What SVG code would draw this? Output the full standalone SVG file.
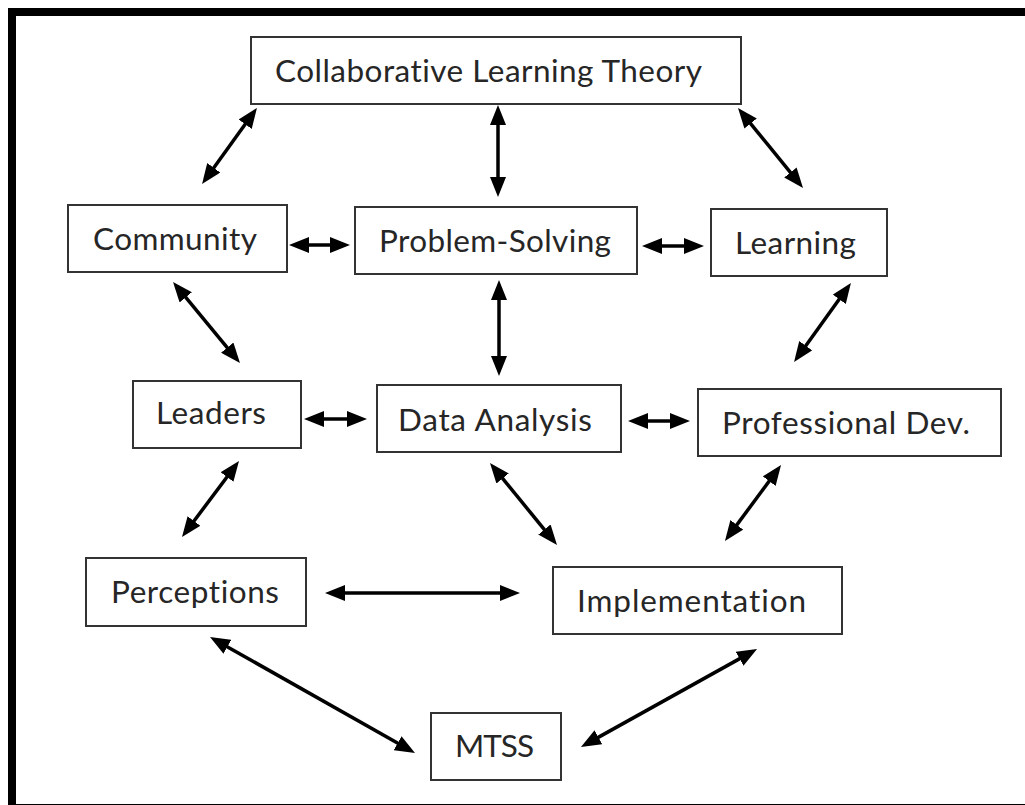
<svg xmlns="http://www.w3.org/2000/svg" width="1025" height="805" viewBox="0 0 1025 805">
  <defs>
    <marker id="head" viewBox="0 0 20 16" markerWidth="20" markerHeight="16" refX="10" refY="8" orient="auto-start-reverse" markerUnits="userSpaceOnUse">
      <path d="M0,0 L20,8 L0,16 z" fill="#000"/>
    </marker>
    <style>
      .box { fill: #fff; stroke: #333; stroke-width: 2; }
      .lbl { font-family: Lato, "Open Sans", "Liberation Sans", sans-serif; font-size: 31.5px; fill: #262626; font-variant-ligatures: none; }
      .link { stroke: #000; stroke-width: 3.5; fill: none; marker-start: url(#head); marker-end: url(#head); }
    </style>
  </defs>

  <rect width="1025" height="805" fill="#fff"/>
  <!-- outer frame -->
  <rect x="12" y="12" width="1040" height="796" fill="none" stroke="#000" stroke-width="8"/>

  <g id="connectors">
    <line class="link" x1="251.1" y1="116.1" x2="207.9" y2="175.9"/>
    <line class="link" x1="498" y1="115" x2="498" y2="187"/>
    <line class="link" x1="744.3" y1="115.8" x2="796.7" y2="180.2"/>
    <line class="link" x1="299" y1="245" x2="340" y2="245"/>
    <line class="link" x1="652" y1="246" x2="694" y2="246"/>
    <line class="link" x1="179.4" y1="289.7" x2="233.6" y2="355.3"/>
    <line class="link" x1="499" y1="290" x2="499" y2="366"/>
    <line class="link" x1="845.1" y1="291.1" x2="799.9" y2="353.9"/>
    <line class="link" x1="314" y1="419" x2="357" y2="419"/>
    <line class="link" x1="638" y1="421" x2="680" y2="421"/>
    <line class="link" x1="233" y1="469" x2="188" y2="529"/>
    <line class="link" x1="496.3" y1="470.7" x2="550.7" y2="537.3"/>
    <line class="link" x1="775.1" y1="473.1" x2="730.9" y2="532.9"/>
    <line class="link" x1="335" y1="593" x2="510" y2="593"/>
    <line class="link" x1="218.7" y1="641.9" x2="406.3" y2="748.1"/>
    <line class="link" x1="748.3" y1="653.9" x2="589.7" y2="742.1"/>
  </g>

  <g id="collaborative-learning-theory">
    <rect class="box" x="251" y="37" width="490" height="67"/>
    <text class="lbl" x="275" y="82" textLength="427">Collaborative Learning Theory</text>
  </g>
  <g id="community">
    <rect class="box" x="68" y="205" width="219" height="67"/>
    <text class="lbl" x="93" y="250" textLength="164">Community</text>
  </g>
  <g id="problem-solving">
    <rect class="box" x="355" y="207" width="282" height="67"/>
    <text class="lbl" x="379" y="252" textLength="232">Problem-Solving</text>
  </g>
  <g id="learning">
    <rect class="box" x="711" y="209" width="176" height="67"/>
    <text class="lbl" x="735" y="254" textLength="121">Learning</text>
  </g>
  <g id="leaders">
    <rect class="box" x="133" y="381" width="168" height="67"/>
    <text class="lbl" x="156" y="424" textLength="110">Leaders</text>
  </g>
  <g id="data-analysis">
    <rect class="box" x="377" y="385" width="244" height="67"/>
    <text class="lbl" x="398" y="431" textLength="194">Data Analysis</text>
  </g>
  <g id="professional-dev">
    <rect class="box" x="698" y="389" width="303" height="67"/>
    <text class="lbl" x="722" y="434" textLength="248">Professional Dev.</text>
  </g>
  <g id="perceptions">
    <rect class="box" x="86" y="558" width="220" height="68"/>
    <text class="lbl" x="111" y="603" textLength="168">Perceptions</text>
  </g>
  <g id="implementation">
    <rect class="box" x="553" y="567" width="289" height="67"/>
    <text class="lbl" x="577" y="612" textLength="229">Implementation</text>
  </g>
  <g id="mtss">
    <rect class="box" x="431" y="713" width="130" height="67"/>
    <text class="lbl" x="455" y="757" textLength="79">MTSS</text>
  </g>
</svg>
